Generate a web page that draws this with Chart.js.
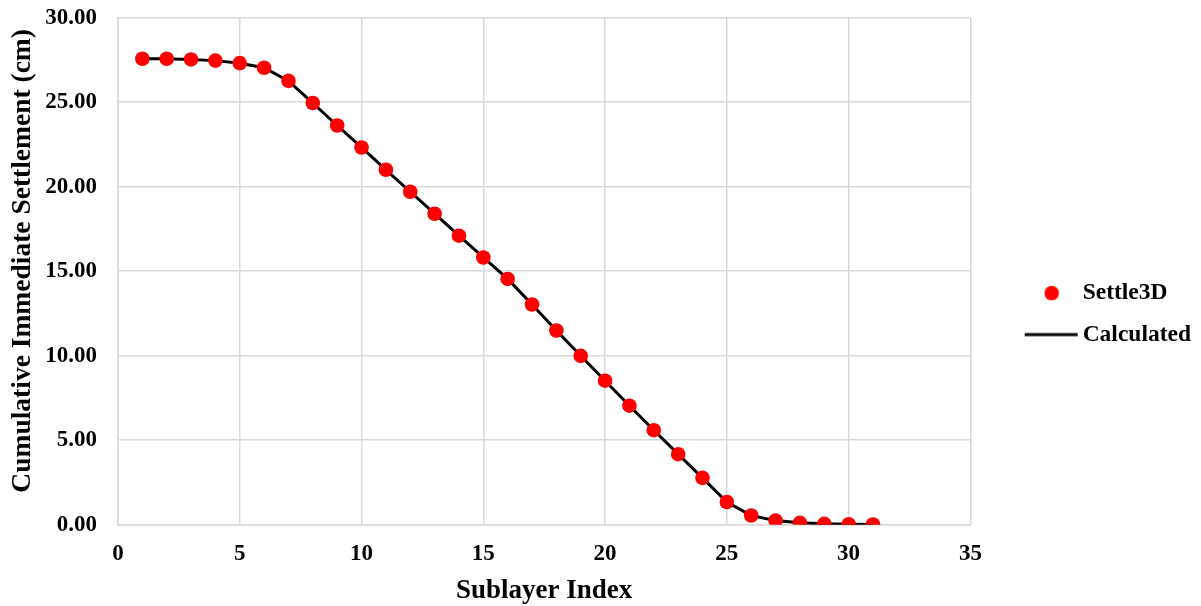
<!DOCTYPE html>
<html>
<head>
<meta charset="utf-8">
<script src="https://cdn.jsdelivr.net/npm/chart.js@4.4.1/dist/chart.umd.min.js"></script>
<style>
  html, body { margin: 0; padding: 0; background: #fff; }
  #chart { display: block; }
</style>
</head>
<body>
<canvas id="chart" width="1201" height="606"></canvas>
<script>
// sublayer index on x
const sublayers = [1, 2, 3, 4, 5, 6, 7, 8, 9, 10, 11, 12, 13, 14, 15, 16, 17, 18, 19, 20,
  21, 22, 23, 24, 25, 26, 27, 28, 29, 30, 31];

// cumulative immediate settlement (cm)
const settle3d = [27.57, 27.57, 27.53, 27.46, 27.31, 27.04, 26.26, 24.95, 23.62, 22.32,
  21.0, 19.7, 18.4, 17.1, 15.81, 14.54, 13.03, 11.49, 9.99, 8.52,
  7.04, 5.59, 4.17, 2.77, 1.34, 0.54, 0.24, 0.11, 0.05, 0.02, 0.01];
const calculated = [27.57, 27.57, 27.53, 27.46, 27.31, 27.04, 26.26, 24.95, 23.62, 22.32,
  21.0, 19.7, 18.4, 17.1, 15.81, 14.54, 13.03, 11.49, 9.99, 8.52,
  7.04, 5.59, 4.17, 2.77, 1.34, 0.54, 0.24, 0.11, 0.05, 0.02, 0.01];

const xTicks = [0, 5, 10, 15, 20, 25, 30, 35];
const yTicks = [0, 5, 10, 15, 20, 25, 30];

const serif = '"Liberation Serif", "Times New Roman", serif';
const gridColor = '#d9d9d9';

function toPoints(xs, ys) {
  return xs.map((x, i) => ({ x: x, y: ys[i] }));
}

// little legend symbols (marker / line sample)
function legendSymbol(kind) {
  const c = document.createElement('canvas');
  c.width = 100;
  c.height = 20;
  const g = c.getContext('2d');
  if (kind === 'dot') {
    g.fillStyle = '#ff0000';
    g.beginPath();
    g.arc(72, 10, 7.3, 0, Math.PI * 2);
    g.fill();
  } else {
    g.strokeStyle = '#000';
    g.lineWidth = 3;
    g.beginPath();
    g.moveTo(45, 10);
    g.lineTo(98, 10);
    g.stroke();
  }
  return c;
}
const dotSymbol = legendSymbol('dot');
const lineSymbol = legendSymbol('line');

const ctx = document.getElementById('chart').getContext('2d');
new Chart(ctx, {
  type: 'scatter',
  data: {
    datasets: [
      {
        label: 'Settle3D',
        data: toPoints(sublayers, settle3d),
        showLine: false,
        pointRadius: 7.3,
        pointHoverRadius: 7.3,
        pointBackgroundColor: '#ff0000',
        pointBorderWidth: 0,
        borderColor: '#ff0000'
      },
      {
        label: 'Calculated',
        data: toPoints(sublayers, calculated),
        showLine: true,
        borderColor: '#000000',
        borderWidth: 3,
        pointRadius: 0,
        pointHoverRadius: 0,
        tension: 0
      }
    ]
  },
  options: {
    responsive: false,
    animation: false,
    devicePixelRatio: 1,
    layout: { padding: { top: 17.7, left: 0, right: 0, bottom: 0 } },
    plugins: {
      tooltip: { enabled: false },
      legend: {
        position: 'right',
        align: 'center',
        title: { display: true, text: '', padding: 0, font: { size: 4, lineHeight: '4px' } },
        labels: {
          usePointStyle: true,
          pointStyleWidth: 82.5,
          padding: 18,
          color: '#000',
          font: { family: serif, size: 23.5, weight: 'bold' },
          generateLabels: () => [
            { text: 'Settle3D', pointStyle: dotSymbol, fillStyle: '#ff0000', strokeStyle: '#ff0000', lineWidth: 0, hidden: false, datasetIndex: 0, fontColor: '#000' },
            { text: 'Calculated', pointStyle: lineSymbol, fillStyle: '#000', strokeStyle: '#000', lineWidth: 0, hidden: false, datasetIndex: 1, fontColor: '#000' }
          ]
        }
      }
    },
    scales: {
      x: {
        type: 'linear',
        min: 0,
        max: 35,
        afterBuildTicks: (axis) => { axis.ticks = xTicks.map(v => ({ value: v })); },
        grid: { color: gridColor, lineWidth: 1.5, drawTicks: false },
        border: { color: gridColor, width: 1.5 },
        ticks: {
          padding: 16,
          color: '#000',
          font: { family: serif, size: 23, weight: 'bold' }
        },
        title: {
          display: true,
          text: 'Sublayer Index',
          color: '#000',
          padding: { top: 0, bottom: 8.25 },
          font: { family: serif, size: 27, weight: 'bold', lineHeight: 0.5 }
        }
      },
      y: {
        type: 'linear',
        min: 0,
        max: 30,
        afterBuildTicks: (axis) => { axis.ticks = yTicks.map(v => ({ value: v })); },
        // the big tick padding would otherwise push the plot top down
        afterFit: (axis) => { axis.paddingTop = 0; axis.paddingBottom = 0; },
        grid: { color: gridColor, lineWidth: 1.5, drawTicks: false },
        border: { color: gridColor, width: 1.5 },
        ticks: {
          padding: 21,
          color: '#000',
          font: { family: serif, size: 23, weight: 'bold' },
          callback: (v) => Number(v).toFixed(2)
        },
        title: {
          display: true,
          text: '   Cumulative Immediate Settlement (cm)',
          color: '#000',
          padding: { top: 21.85, bottom: 0.4 },
          font: { family: serif, size: 27.5, weight: 'bold', lineHeight: '2px' }
        }
      }
    }
  }
});
</script>
</body>
</html>
